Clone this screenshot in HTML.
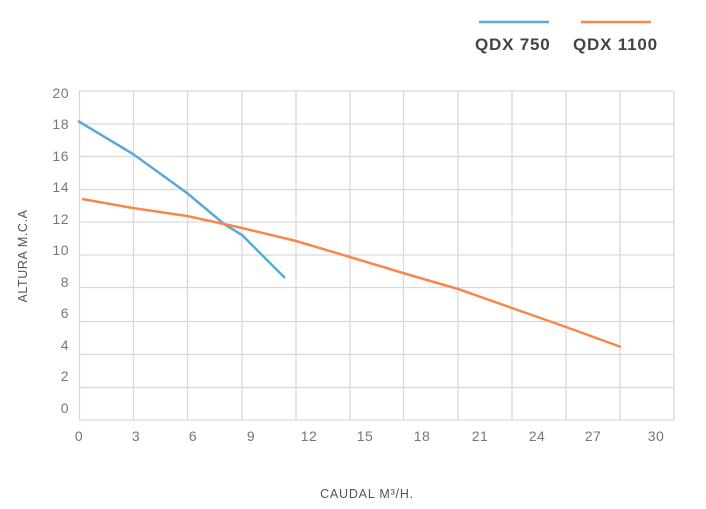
<!DOCTYPE html>
<html><head><style>body{margin:0;background:#fff;width:706px;height:504px;overflow:hidden}</style></head><body>
<svg width="706" height="504" xmlns="http://www.w3.org/2000/svg" font-family="Liberation Sans, sans-serif">
<g stroke="#d9d9d9" stroke-width="1.3" fill="none">
<line x1="79.5" y1="91" x2="79.5" y2="420"/><line x1="133.5" y1="91" x2="133.5" y2="420"/><line x1="187.5" y1="91" x2="187.5" y2="420"/><line x1="242" y1="91" x2="242" y2="420"/><line x1="296" y1="91" x2="296" y2="420"/><line x1="350" y1="91" x2="350" y2="420"/><line x1="403.5" y1="91" x2="403.5" y2="420"/><line x1="458" y1="91" x2="458" y2="420"/><line x1="512" y1="91" x2="512" y2="420"/><line x1="566" y1="91" x2="566" y2="420"/><line x1="620" y1="91" x2="620" y2="420"/><line x1="674" y1="91" x2="674" y2="420"/>
<line x1="79" y1="91" x2="674" y2="91"/><line x1="79" y1="124" x2="674" y2="124"/><line x1="79" y1="156.5" x2="674" y2="156.5"/><line x1="79" y1="189.5" x2="674" y2="189.5"/><line x1="79" y1="222" x2="674" y2="222"/><line x1="79" y1="255" x2="674" y2="255"/><line x1="79" y1="287.5" x2="674" y2="287.5"/><line x1="79" y1="321.5" x2="674" y2="321.5"/><line x1="79" y1="354.5" x2="674" y2="354.5"/><line x1="79" y1="387.5" x2="674" y2="387.5"/><line x1="79" y1="420" x2="674" y2="420"/>
</g>
<g fill="#777" font-size="14" text-anchor="end" letter-spacing="0.5">
<text x="69" y="98">20</text><text x="69" y="129">18</text><text x="69" y="161">16</text><text x="69" y="192">14</text><text x="69" y="224">12</text><text x="69" y="255">10</text><text x="69" y="287">8</text><text x="69" y="318">6</text><text x="69" y="350">4</text><text x="69" y="381">2</text><text x="69" y="413">0</text>
</g>
<g fill="#777" font-size="14" text-anchor="middle" letter-spacing="0.5">
<text x="79" y="441">0</text><text x="136" y="441">3</text><text x="193" y="441">6</text><text x="251" y="441">9</text><text x="309" y="441">12</text><text x="365" y="441">15</text><text x="422" y="441">18</text><text x="480" y="441">21</text><text x="537" y="441">24</text><text x="593" y="441">27</text><text x="656" y="441">30</text>
</g>
<text x="367" y="498" fill="#555" font-size="12.5" text-anchor="middle" letter-spacing="0.8">CAUDAL M³/H.</text>
<text transform="translate(27,256) rotate(-90)" fill="#555" font-size="12.5" text-anchor="middle" letter-spacing="0.6">ALTURA M.C.A</text>
<polyline fill="none" stroke="#5aa9d6" stroke-width="2.5" points="78,121 133,154 187,193 224,224 242,235 285,278"/>
<polyline fill="none" stroke="#f7874a" stroke-width="2.5" points="82,199 133,208 187,216 224,224 242,228 296,241 350,257 403,273 458,289 512,308 566,327 621,347"/>
<line x1="479" y1="22" x2="549" y2="22" stroke="#5aa9d6" stroke-width="2.5"/>
<line x1="581" y1="22" x2="651" y2="22" stroke="#f7874a" stroke-width="2.5"/>
<text x="475" y="50" fill="#444" font-size="17" font-weight="bold" letter-spacing="0.8">QDX 750</text>
<text x="573" y="50" fill="#444" font-size="17" font-weight="bold" letter-spacing="0.8">QDX 1100</text>
</svg>
</body></html>
